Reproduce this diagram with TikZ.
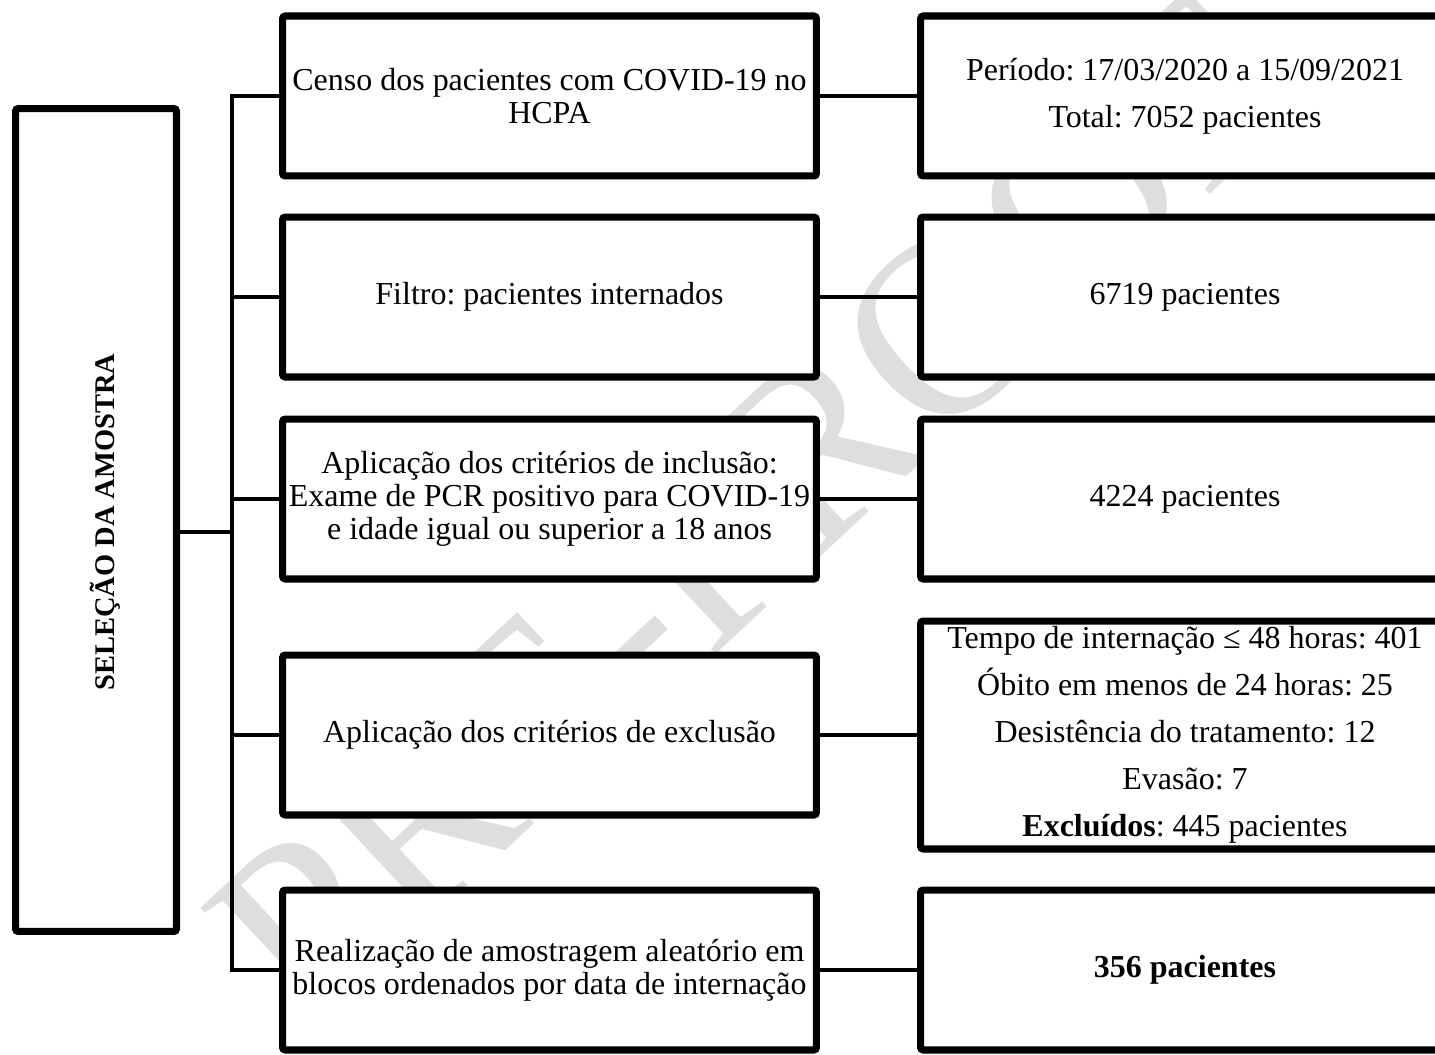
\documentclass[tikz,border=0pt]{standalone}
\usepackage{fontspec}
\setmainfont{Liberation Serif}
\usetikzlibrary{shadows}
\frenchspacing
\begin{document}
\begin{tikzpicture}[x=0.02cm,y=-0.02cm,
  box/.style={draw=black, line width=4pt, fill=white, rounded corners=1.5pt, inner sep=0pt, align=center,
    font=\frenchspacing\fontsize{18.2}{18.8}\selectfont,
    drop shadow={shadow xshift=0.05cm, shadow yshift=-0.07cm, opacity=0.12}},
  lbox/.style={box, minimum width=10.68cm, minimum height=3.2cm},
  rbox/.style={box, minimum width=10.58cm, minimum height=3.2cm, font=\frenchspacing\fontsize{18.2}{26.7}\selectfont},
  conn/.style={line width=2.6pt, line join=miter},
  wmark/.style={rotate=43, text=black!13, font=\fontsize{144}{144}\selectfont}]
\useasboundingbox (0,0) rectangle (1435,1054);
\fill[white] (0,0) rectangle (1435,1054);
% watermark
\node[wmark] (wm) at (751,509) {PRE-PROOF};
% main box
\node[box, minimum width=3.22cm, minimum height=16.46cm] (M) at (96,520) {};
\node[rotate=90, font=\bfseries\fontsize{16.2}{18}\selectfont] (MT) at (105,522) {SELEÇÃO DA AMOSTRA};
% left column
\node[lbox] (L1) at (549.5,96) {Censo dos pacientes com COVID-19 no\\HCPA};
\node[lbox] (L2) at (549.5,297) {Filtro: pacientes internados};
\node[lbox] (L3) at (549.5,499) {Aplicação dos critérios de inclusão:\\Exame de PCR positivo para COVID-19\\e idade igual ou superior a 18 anos};
\node[lbox] (L4) at (549.5,735) {Aplicação dos critérios de exclusão};
\node[lbox] (L5) at (549.5,970) {Realização de amostragem aleatório em\\blocos ordenados por data de internação};
% right column
\node[rbox] (R1) at (1185,96) {Período: 17/03/2020 a 15/09/2021\\Total: 7052 pacientes};
\node[rbox] (R2) at (1185,297) {6719 pacientes};
\node[rbox] (R3) at (1185,499) {4224 pacientes};
\node[rbox, minimum height=4.56cm] (R4) at (1185,735) {Tempo de internação ≤ 48 horas: 401\\Óbito em menos de 24 horas: 25\\Desistência do tratamento: 12\\Evasão: 7\\\textbf{Excluídos}: 445 pacientes};
\node[rbox] (R5) at (1185,970) {\textbf{356 pacientes}};
% connectors
\coordinate (sp) at (232,532);
\draw[conn] (L1.west) -- (L1.west -| sp) -- (L5.west -| sp) -- (L5.west);
\draw[conn] (M.east |- sp) -- (sp);
\foreach \i in {2,3,4} {\draw[conn] (L\i.west -| sp) -- (L\i.west);}
\foreach \i in {1,...,5} {\draw[conn] (L\i.east) -- (R\i.west);}
\end{tikzpicture}
\end{document}
